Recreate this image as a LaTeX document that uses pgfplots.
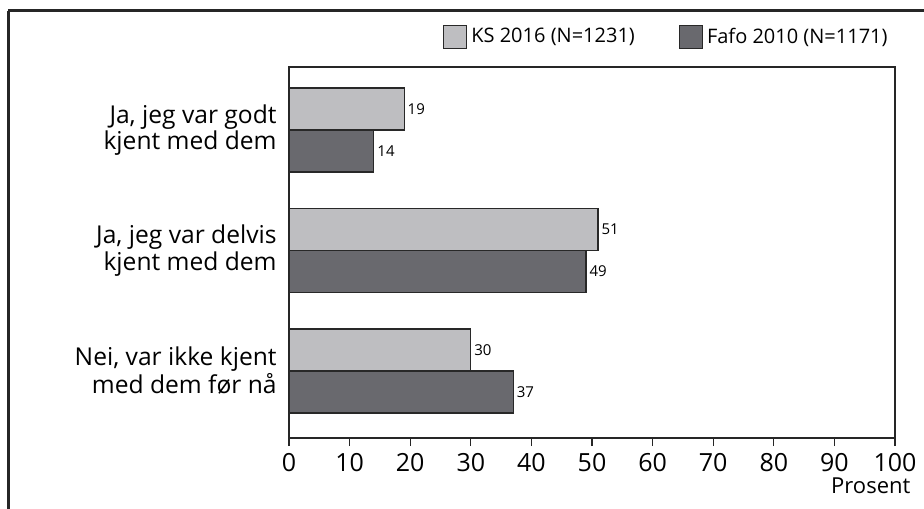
\documentclass[border=0pt]{standalone}
\usepackage{pgfplots}
\pgfplotsset{compat=1.18}
\usepackage{fontspec}
\setmainfont{Open Sans}
\definecolor{lightbar}{RGB}{190,190,193}
\definecolor{darkbar}{RGB}{105,105,110}
\definecolor{edge}{RGB}{40,40,40}
\begin{document}
\begin{tikzpicture}
\draw[line width=1.5pt, black!85] (4pt,248.5pt) -- (4pt,-10pt);
\draw[line width=1.5pt, black!85] (4pt,248.5pt) -- (480pt,248.5pt);
\begin{axis}[
  at={(144.5pt,35pt)}, anchor=south west,
  scale only axis, width=303pt, height=185.5pt,
  xbar, bar width=21pt,
  xmin=0, xmax=100, ymin=-0.556, ymax=2.523,
  xtick={0,10,...,100},
  ytick={0,1,2},
  yticklabels={{Nei, var ikke kjent\\med dem før nå},{Ja, jeg var delvis\\kjent med dem},{Ja, jeg var godt\\kjent med dem}},
  yticklabel style={align=right, font=\fontsize{12.3}{11}\selectfont, inner xsep=2pt},
  ytick style={draw=none},
  xtick pos=bottom, tick align=outside,
  major tick length=4pt,
  xticklabel style={font=\fontsize{12.5}{13}\selectfont},
  /pgf/number format/assume math mode=true,
  axis line style={line width=0.6pt, black!85},
  every tick/.style={black!85, line width=0.6pt},
  xlabel={Prosent},
  xlabel style={at={(rel axis cs:1.026,0)}, anchor=north east, yshift=-16.5pt, inner xsep=0pt, font=\fontsize{11}{13}\selectfont},
  nodes near coords,
  nodes near coords style={font=\fontsize{7.5}{8}\selectfont, anchor=west, inner xsep=1.5pt},
  legend style={draw=none, fill=none, at={(rel axis cs:0.995,1.081)}, anchor=east, inner xsep=0pt,
    legend columns=2, font=\fontsize{10}{12}\selectfont,
    /tikz/every even column/.append style={column sep=20pt}},
  legend image code/.code={\draw[#1, draw=edge, line width=0.6pt] (0pt,-5.75pt) rectangle (11.5pt,5.75pt);},
  legend cell align=left,
]
\addplot[fill=lightbar, draw=edge, line width=0.6pt, bar shift=10.5pt] coordinates {(19,2) (51,1) (30,0)};
\addlegendentry{KS 2016 (N=1231)}
\addplot[fill=darkbar, draw=edge, line width=0.6pt, bar shift=-10.5pt] coordinates {(14,2) (49,1) (37,0)};
\addlegendentry{Fafo 2010 (N=1171)}
\end{axis}
\pgfresetboundingbox
\useasboundingbox (0,0) rectangle (462pt,254pt);
\end{tikzpicture}
\end{document}
